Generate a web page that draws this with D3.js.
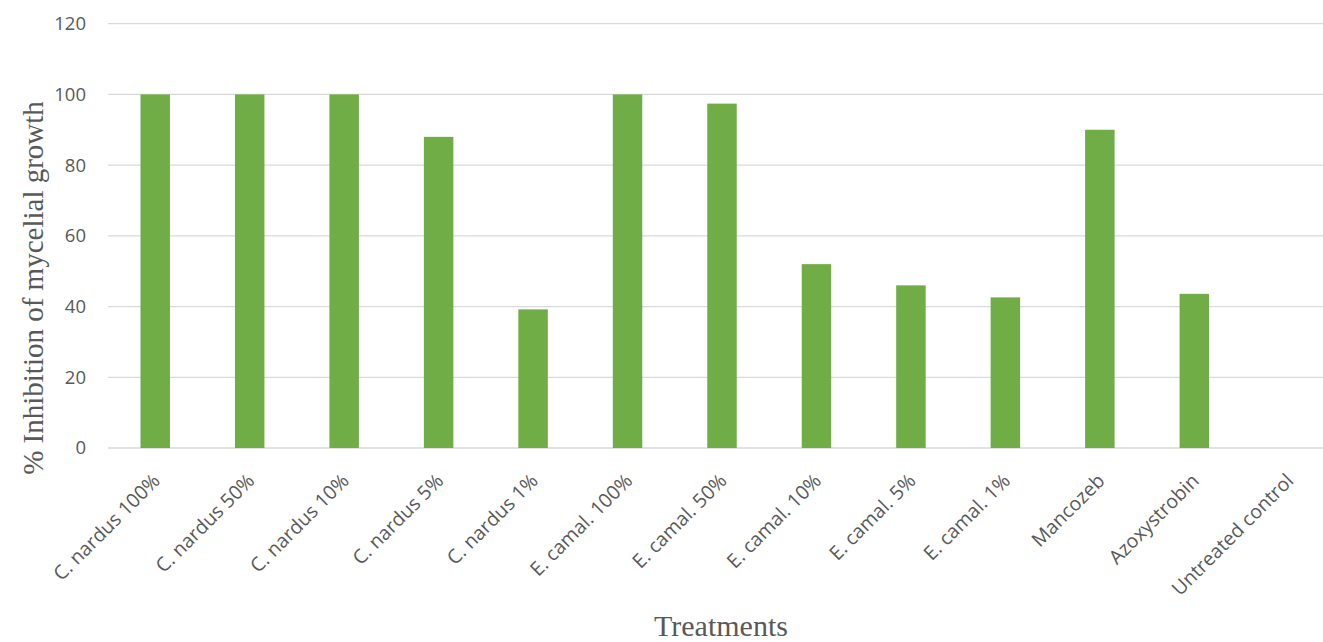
<!DOCTYPE html>
<html><head><meta charset="utf-8">
<script src="https://cdn.jsdelivr.net/npm/d3@7"></script>
<style>html,body{margin:0;padding:0;background:#fff;overflow:hidden}</style>
</head><body>
<svg id="chart" width="1323" height="642"></svg>
<script>
const categories = ["C. nardus 100%","C. nardus 50%","C. nardus 10%","C. nardus 5%","C. nardus 1%","E. camal. 100%","E. camal. 50%","E. camal. 10%","E. camal. 5%","E. camal. 1%","Mancozeb","Azoxystrobin","Untreated control"];
const values = [100,100,100,88,39.2,100,97.4,52,46,42.6,90,43.6,0];
const yTicks = [0,20,40,60,80,100,120];

const svg = d3.select("#chart");
const mLeft = 108, mRight = 1336, mTop = 23.7, mBottom = 448;
const x = d3.scaleBand().domain(categories).range([mLeft, mRight]).paddingInner(0.688).paddingOuter(0.344);
const y = d3.scaleLinear().domain([0,120]).range([mBottom, mTop]);

const grid = svg.append("g");
grid.selectAll("line").data(yTicks).join("line")
  .attr("x1", mLeft).attr("x2", 1323)
  .attr("y1", d => y(d)).attr("y2", d => y(d))
  .attr("stroke", "#d9d9d9").attr("stroke-width", 1.3);

svg.append("g").selectAll("rect").data(values).join("rect")
  .attr("x", (d,i) => x(categories[i]))
  .attr("width", x.bandwidth())
  .attr("y", d => y(d))
  .attr("height", d => mBottom - y(d))
  .attr("fill", "#70ad47");

const yAxis = svg.append("g").attr("transform", `translate(${mLeft},0)`)
  .call(d3.axisLeft(y).tickValues(yTicks).tickSize(0).tickPadding(22));
yAxis.select(".domain").remove();
yAxis.selectAll("text").attr("fill", "#595959").style("font-family","'Open Sans', sans-serif").style("font-size","18.5px");

const xAxis = svg.append("g").attr("transform", `translate(0,${mBottom})`)
  .call(d3.axisBottom(x).tickSize(0).tickPadding(0));
xAxis.select(".domain").remove();
xAxis.selectAll("text")
  .attr("fill", "#595959")
  .style("font-family","'Open Sans', sans-serif").style("font-size","19.5px")
  .attr("text-anchor","end")
  .attr("dy", null).attr("y", 0)
  .attr("transform", "translate(6,34) rotate(-45)");

svg.append("text")
  .attr("transform", "translate(43,288) rotate(-90)")
  .attr("text-anchor","middle")
  .attr("fill","#595959")
  .style("font-family","'Liberation Serif', 'Times New Roman', serif").style("font-size","29px")
  .text("% Inhibition of mycelial growth");

svg.append("text")
  .attr("x", 721).attr("y", 636)
  .attr("text-anchor","middle")
  .attr("fill","#595959")
  .style("font-family","'Liberation Serif', 'Times New Roman', serif").style("font-size","30px")
  .text("Treatments");
</script>
</body></html>
